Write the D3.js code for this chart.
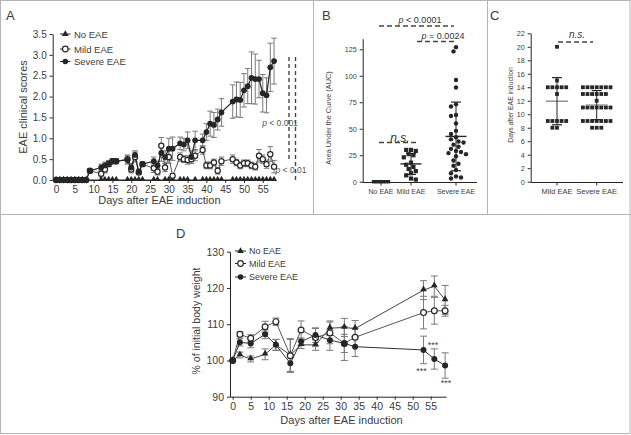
<!DOCTYPE html>
<html><head><meta charset="utf-8">
<script src="https://cdn.jsdelivr.net/npm/d3@7"></script>
<style>body{margin:0;background:#fff;} svg text{font-family:"Liberation Sans", Arial, Helvetica, sans-serif;}</style>
</head><body><svg id="c" width="631" height="435"></svg>
<script>
// ---------------- DATA ----------------
// Panel A: EAE clinical scores (mean, SEM)
const daysA = [0,1,2,3,4,5,6,7,8,9,12,13,14,15,16,19,20,21,22,23,26,27,28,29,30,31,33,34,35,36,37,39,40,41,42,43,44,47,48,49,50,51,52,53,54,55,56,57,58];
const severeA = [0,0,0,0,0,0,0,0,0,0.22, 0.3,0.35,0.4,0.45,0.45, 0.48,0.3,0.6,0.2,0.38, 0.45,0.35,0.65,0.55,0.75,0.75, 0.88,0.85,0.95,0.55,0.95, 0.95,1.15,1.35,1.32,1.45,1.62, 1.88,1.93,1.92,2.15,2.25,2.45,2.42,2.42,2.08,2.03,2.7,2.85];
const severeAErr = [0,0,0,0,0,0,0,0,0,0.05, 0.08,0.08,0.07,0.06,0.06, 0.1,0.1,0.1,0.06,0.05, 0.1,0.1,0.2,0.15,0.25,0.28, 0.15,0.15,0.2,0.15,0.22, 0.15,0.2,0.3,0.3,0.25,0.33, 0.4,0.42,0.42,0.4,0.42,0.62,0.6,0.45,0.45,0.42,0.58,0.55];
const mildA = [0,0,0,0,0,0,0,0,0,0.22, 0.15,0.25,0.38,0.45,0.45, 0.5,0.25,0.55,0.18,0.38, 0.28,0.2,0.82,0.3,0.55,0.1, 0.55,0.5,0.48,0.5,0.58, 0.72,0.35,0.35,0.42,0.22,0.45, 0.5,0.42,0.35,0.4,0.4,0.35,0.32,0.58,0.5,0.38,0.62,0.32];
const mildAErr = [0,0,0,0,0,0,0,0,0,0.05, 0.08,0.08,0.06,0.05,0.05, 0.1,0.08,0.12,0.05,0.05, 0.1,0.08,0.2,0.1,0.15,0.05, 0.1,0.08,0.1,0.1,0.12, 0.1,0.08,0.08,0.08,0.08,0.1, 0.1,0.08,0.08,0.08,0.08,0.08,0.08,0.15,0.1,0.1,0.18,0.15];
const noEaeDaysA = [0,1,2,3,4,5,6,7,8,12,13,14,15,16,19,20,21,22,23,26,27,29,30,31,33,34,35,37,39,40,41,42,43,44,47,48,49,50,51,52,53,54,55,56,57,58];
const ticksAx = [0,5,10,15,20,25,30,35,40,45,50,55];
const ticksAy = [0,0.5,1,1.5,2,2.5,3,3.5];
const seriesNames = ["No EAE","Mild EAE","Severe EAE"];

// Panel B: AUC per mouse
const catsB = ["No EAE","Mild EAE","Severe EAE"];
const aucNo = [0,0,0,0,0,0,0];
const aucMild = [30,29,30,26,25,23,18,16,14,12,10,8,6,3,2];
const aucSevere = [127,123,96,89,73,71,63,62,55,48,45,42,40,38,37,35,33,31,29,28,27,26,24,20,17,15,11,8,5,4,3];
const ticksBy = [0,25,50,75,100,125];

// Panel C: onset day
const catsC = ["Mild EAE","Severe EAE"];
const onsetMild = [20,15,14,14,14,14,14,13,9,9,9,9,9,8,8];
const onsetSevere = [14,14,14,14,14,14,14,13,13,13,13,13,13,12,11,11,11,11,11,11,11,9,9,9,9,9,9,9,8,8,8];
const ticksCy = [0,2,4,6,8,10,12,14,16,18,20,22];

// Panel D: body weight (% of initial, mean, SEM)
const daysD = [0,2,5,9,12,16,19,23,27,31,34,53,56,59];
const noD = [100,101.5,100.4,101.7,104.3,101.5,104.3,104.3,108.9,109.1,108.8,119.4,120.5,116.7];
const noDErr = [0,0.8,0.8,1.5,1.5,4.5,1,1.5,2,2.5,2.2,2.6,2.8,4];
const mildD = [100,107.2,106.1,109.3,110.7,101.3,108.4,106.3,107.6,104.7,106.4,113.2,113.7,113.7];
const mildDErr = [0,0.7,1,1.5,1,4.5,2.5,2.5,3,4.7,2.5,4.5,3.7,1.5];
const sevD = [100,105,104.7,107.2,104.3,99.2,105.2,107,105.6,104.7,103.8,102.9,100.4,98.6];
const sevDErr = [0,1,1.2,1.2,1.5,2.5,1,2,2.8,2.5,2.7,3.8,2.8,3.5];
const ticksDx = [0,5,10,15,20,25,30,35,40,45,50,55];
const ticksDy = [90,100,110,120,130];

// ---------------- DRAW ----------------
const svg = d3.select("#c");
const INK = "#262626", TXT = "#3c3c3c", FR = "#b4b4b4", ERR = "#7a7a7a";

// frame
const fr = svg.append("g").attr("fill","none").attr("stroke",FR).attr("stroke-width",1);
fr.append("rect").attr("x",0.5).attr("y",0.5).attr("width",629.5).attr("height",433);
fr.append("line").attr("x1",0).attr("x2",631).attr("y1",214.5).attr("y2",214.5);
fr.append("line").attr("x1",313.5).attr("x2",313.5).attr("y1",0).attr("y2",214.5);
fr.append("line").attr("x1",487.5).attr("x2",487.5).attr("y1",0).attr("y2",214.5);

function label(t,x,y){ svg.append("text").attr("x",x).attr("y",y).attr("font-size",13).attr("fill",TXT).text(t); }
label("A",6,20); label("B",322,20); label("C",490,20); label("D",176,238);

function styleAxis(g, fs){
  g.select(".domain").attr("stroke",INK).attr("stroke-width",1);
  g.selectAll(".tick line").attr("stroke",INK);
  g.selectAll(".tick text").attr("fill",TXT).attr("font-size",fs).attr("font-family","Liberation Sans, Arial, sans-serif");
}
function errBars(g, xs, ys, es, x, y, cap, color){
  xs.forEach((d,i)=>{
    if(!es[i]) return;
    const cx = x(d), y1 = y(ys[i]-es[i]), y2 = y(ys[i]+es[i]);
    g.append("line").attr("x1",cx).attr("x2",cx).attr("y1",y1).attr("y2",y2).attr("stroke",color).attr("stroke-width",1);
    [y1,y2].forEach(yy=>g.append("line").attr("x1",cx-cap).attr("x2",cx+cap).attr("y1",yy).attr("y2",yy).attr("stroke",color).attr("stroke-width",1));
  });
}
function marker(g, type, cx, cy, s){
  if(type==="tri") g.append("path").attr("d",d3.symbol(d3.symbolTriangle, s*s*1.1)()).attr("transform",`translate(${cx},${cy})`).attr("fill",INK);
  else if(type==="open") g.append("circle").attr("cx",cx).attr("cy",cy).attr("r",s/2).attr("fill","#fff").attr("stroke",INK).attr("stroke-width",1.2);
  else if(type==="fill") g.append("circle").attr("cx",cx).attr("cy",cy).attr("r",s/2).attr("fill",INK);
  else if(type==="sq") g.append("rect").attr("x",cx-s/2).attr("y",cy-s/2).attr("width",s).attr("height",s).attr("fill",INK);
}

// ===== Panel A =====
(function(){
  const x = d3.scaleLinear().domain([-0.9,58.2]).range([52.7,274.8]);
  const y = d3.scaleLinear().domain([0,3.5]).range([180,34]);
  const g = svg.append("g");
  const xa = g.append("g").attr("transform","translate(0,180)").call(d3.axisBottom(x).tickValues(ticksAx).tickSize(3).tickSizeOuter(0).tickFormat(d3.format("d")));
  styleAxis(xa,10);
  const ya = g.append("g").attr("transform","translate(52.7,0)").call(d3.axisLeft(y).tickValues(ticksAy).tickSize(3).tickSizeOuter(0).tickFormat(d3.format(".1f")));
  styleAxis(ya,10);
  g.append("text").attr("x",x(27.5)).attr("y",204).attr("text-anchor","middle").attr("font-size",11).attr("fill",TXT).text("Days after EAE induction");
  g.append("text").attr("transform","translate(27,107) rotate(-90)").attr("text-anchor","middle").attr("font-size",11).attr("fill",TXT).text("EAE clinical scores");

  const line = d3.line();
  g.append("path").attr("d",line(noEaeDaysA.map(d=>[x(d),y(0)]))).attr("fill","none").attr("stroke",INK).attr("stroke-width",1);
  errBars(g, daysA, mildA, mildAErr, x, y, 2.8, ERR);
  errBars(g, daysA, severeA, severeAErr, x, y, 2.8, ERR);
  g.append("path").attr("d",line(daysA.map((d,i)=>[x(d),y(mildA[i])]))).attr("fill","none").attr("stroke","#555").attr("stroke-width",1);
  g.append("path").attr("d",line(daysA.map((d,i)=>[x(d),y(severeA[i])]))).attr("fill","none").attr("stroke",INK).attr("stroke-width",1.2);
  noEaeDaysA.forEach(d=>marker(g,"tri",x(d),y(0)-0.8,3.8));
  daysA.forEach((d,i)=>marker(g,"open",x(d),y(mildA[i]),5.2));
  daysA.forEach((d,i)=>marker(g,"fill",x(d),y(severeA[i]),5.8));

  // legend
  const types = ["tri","open","fill"], ly = [34,49,61.5];
  seriesNames.forEach((n,i)=>{
    g.append("line").attr("x1",60).attr("x2",70.5).attr("y1",ly[i]).attr("y2",ly[i]).attr("stroke",INK);
    marker(g,types[i],65.3,ly[i],i===0?4.2:5.6);
    g.append("text").attr("x",74).attr("y",ly[i]+3.5).attr("font-size",9.5).attr("fill",TXT).text(n);
  });
  // significance
  g.append("line").attr("x1",289).attr("x2",289).attr("y1",57).attr("y2",160).attr("stroke","#444").attr("stroke-width",1.4).attr("stroke-dasharray","4,3");
  g.append("line").attr("x1",295.5).attr("x2",295.5).attr("y1",57).attr("y2",182).attr("stroke","#444").attr("stroke-width",1.4).attr("stroke-dasharray","4,3");
  const pt = g.append("text").attr("x",280).attr("y",126).attr("text-anchor","middle").attr("font-size",8.5).attr("fill","#555");
  pt.append("tspan").attr("font-style","italic").text("p"); pt.append("tspan").text(" < 0.001");
  const pt2 = g.append("text").attr("x",291).attr("y",173).attr("text-anchor","middle").attr("font-size",8.5).attr("fill","#555");
  pt2.append("tspan").attr("font-style","italic").text("p"); pt2.append("tspan").text(" < 0.01");
})();

// beeswarm layout helper
function swarm(vals, y, d){
  const idx = vals.map((v,i)=>i).sort((a,b)=>vals[b]-vals[a]);
  const placed = [], off = new Array(vals.length);
  idx.forEach(i=>{
    const yy = y(vals[i]);
    for(let k=0;k<60;k++){
      const o = (k%2===0?1:-1)*Math.ceil(k/2)*d*0.5;
      if(placed.every(p=>(p.x-o)*(p.x-o)+(p.y-yy)*(p.y-yy) >= d*d*0.95)){ off[i]=o; placed.push({x:o,y:yy}); break; }
    }
  });
  return off;
}
function meanSd(g, cx, vals, y, hw, cw, meanColor){
  const m = d3.mean(vals), s = d3.deviation(vals) || 0;
  g.append("line").attr("x1",cx-hw).attr("x2",cx+hw).attr("y1",y(m)).attr("y2",y(m)).attr("stroke",meanColor).attr("stroke-width",1.4);
  if(s>0){
    g.append("line").attr("x1",cx).attr("x2",cx).attr("y1",y(m-s)).attr("y2",y(m+s)).attr("stroke",INK).attr("stroke-width",1);
    [m-s,m+s].forEach(v=>g.append("line").attr("x1",cx-cw).attr("x2",cx+cw).attr("y1",y(v)).attr("y2",y(v)).attr("stroke",INK).attr("stroke-width",1.2));
  }
}

// ===== Panel B =====
(function(){
  const x = d3.scaleOrdinal().domain(catsB).range([381,411,456]);
  const y = d3.scaleLinear().domain([0,135]).range([181.7,38.7]);
  const g = svg.append("g");
  const ya = g.append("g").attr("transform","translate(362.7,0)").call(d3.axisLeft(y).tickValues(ticksBy).tickSize(3).tickSizeOuter(0));
  styleAxis(ya,7.2);
  const xa = g.append("g").attr("transform","translate(0,182.5)");
  xa.append("line").attr("x1",362.7).attr("x2",477).attr("stroke",INK);
  catsB.forEach(c=>{
    xa.append("line").attr("x1",x(c)).attr("x2",x(c)).attr("y1",0).attr("y2",3).attr("stroke",INK);
    xa.append("text").attr("x",x(c)).attr("y",11).attr("text-anchor","middle").attr("font-size",7).attr("fill",TXT).text(c);
  });
  g.append("text").attr("transform","translate(331,118) rotate(-90)").attr("text-anchor","middle").attr("font-size",7.3).attr("fill",TXT).text("Area Under the Curve (AUC)");

  const sets = [[aucNo,"sq",4],[aucMild,"sq",4.2],[aucSevere,"fill",4.4]];
  aucNo.forEach((v,i)=>marker(g,"sq",x(catsB[0])-7.5+i*2.5,y(v),3.4));
  meanSd(g,x(catsB[0]),aucNo,y,8,4,INK);
  [1,2].forEach(k=>{
    const [vals,type,s] = sets[k];
    const off = swarm(vals,y,s+0.6);
    vals.forEach((v,i)=>marker(g,type,x(catsB[k])+off[i],y(v),s));
    meanSd(g,x(catsB[k]),vals,y,10.5,5,INK);
  });
  function sig(x1,x2,yy){ g.append("line").attr("x1",x1).attr("x2",x2).attr("y1",yy).attr("y2",yy).attr("stroke","#444").attr("stroke-width",1.3).attr("stroke-dasharray","5,3"); }
  sig(379,454,26); sig(417,454,41.5); sig(379,416,142.5);
  const t1 = g.append("text").attr("x",420).attr("y",23).attr("text-anchor","middle").attr("font-size",9).attr("fill","#333");
  t1.append("tspan").attr("font-style","italic").text("p"); t1.append("tspan").text(" < 0.0001");
  const t2 = g.append("text").attr("x",443).attr("y",38.5).attr("text-anchor","middle").attr("font-size",9).attr("fill","#333");
  t2.append("tspan").attr("font-style","italic").text("p"); t2.append("tspan").text(" = 0.0024");
  g.append("text").attr("x",400).attr("y",142).attr("text-anchor","middle").attr("font-size",12).attr("font-style","italic").attr("fill","#333").text("n.s.");
})();

// ===== Panel C =====
(function(){
  const x = d3.scaleOrdinal().domain(catsC).range([557,596.7]);
  const y = d3.scaleLinear().domain([0,22]).range([181.7,33.3]);
  const g = svg.append("g");
  const ya = g.append("g").attr("transform","translate(530.7,0)").call(d3.axisLeft(y).tickValues(ticksCy).tickSize(3).tickSizeOuter(0));
  styleAxis(ya,7.2);
  const xa = g.append("g").attr("transform","translate(0,182.5)");
  xa.append("line").attr("x1",530.7).attr("x2",623).attr("stroke",INK);
  catsC.forEach(c=>{
    xa.append("line").attr("x1",x(c)).attr("x2",x(c)).attr("y1",0).attr("y2",3).attr("stroke",INK);
    xa.append("text").attr("x",x(c)).attr("y",11).attr("text-anchor","middle").attr("font-size",7.5).attr("fill",TXT).text(c);
  });
  g.append("text").attr("transform","translate(513,105) rotate(-90)").attr("text-anchor","middle").attr("font-size",6.8).attr("fill",TXT).text("Days after EAE induction");
  [onsetMild,onsetSevere].forEach((vals,k)=>{
    const off = swarm(vals,y,4.6);
    vals.forEach((v,i)=>marker(g,"sq",x(catsC[k])+off[i],y(v),3.8));
    meanSd(g,x(catsC[k]),vals,y,11,5,"#8a8a8a");
  });
  g.append("line").attr("x1",558).attr("x2",593).attr("y1",42).attr("y2",42).attr("stroke","#444").attr("stroke-width",1.3).attr("stroke-dasharray","5,3");
  g.append("text").attr("x",577).attr("y",38).attr("text-anchor","middle").attr("font-size",10).attr("font-style","italic").attr("fill","#333").text("n.s.");
})();

// ===== Panel D =====
(function(){
  const x = d3.scaleLinear().domain([-0.75,59.3]).range([230,446.2]);
  const y = d3.scaleLinear().domain([90,130]).range([396.7,251.7]);
  const g = svg.append("g");
  const xa = g.append("g").attr("transform","translate(0,396.7)").call(d3.axisBottom(x).tickValues(ticksDx).tickSize(3).tickSizeOuter(0));
  styleAxis(xa,10.5);
  const ya = g.append("g").attr("transform","translate(230,0)").call(d3.axisLeft(y).tickValues(ticksDy).tickSize(3).tickSizeOuter(0));
  styleAxis(ya,10.5);
  g.append("text").attr("x",341.5).attr("y",424).attr("text-anchor","middle").attr("font-size",11).attr("fill",TXT).text("Days after EAE induction");
  g.append("text").attr("transform","translate(200,321) rotate(-90)").attr("text-anchor","middle").attr("font-size",10.5).attr("fill",TXT).text("% of initial body weight");
  const line = d3.line();
  errBars(g,daysD,noD,noDErr,x,y,3.5,ERR);
  errBars(g,daysD,mildD,mildDErr,x,y,3.5,ERR);
  errBars(g,daysD,sevD,sevDErr,x,y,3.5,ERR);
  [[noD,"#444"],[mildD,"#555"],[sevD,"#333"]].forEach(([vals,c])=>g.append("path").attr("d",line(daysD.map((d,i)=>[x(d),y(vals[i])]))).attr("fill","none").attr("stroke",c).attr("stroke-width",1));
  daysD.forEach((d,i)=>marker(g,"tri",x(d),y(noD[i])-0.7,4.2));
  daysD.forEach((d,i)=>marker(g,"open",x(d),y(mildD[i]),5.8));
  daysD.forEach((d,i)=>marker(g,"fill",x(d),y(sevD[i]),6));
  const types=["tri","open","fill"], ly=[251,263.5,277];
  seriesNames.forEach((n,i)=>{
    g.append("line").attr("x1",235).attr("x2",246).attr("y1",ly[i]).attr("y2",ly[i]).attr("stroke",INK);
    marker(g,types[i],240.5,ly[i],i===0?4.2:5.6);
    g.append("text").attr("x",249).attr("y",ly[i]+3.3).attr("font-size",9).attr("fill",TXT).text(n);
  });
  [[433,348],[421.5,374],[446,386]].forEach(([sx,sy])=>g.append("text").attr("x",sx).attr("y",sy).attr("text-anchor","middle").attr("font-size",9).attr("fill","#444").text("***"));
})();
</script></body></html>
